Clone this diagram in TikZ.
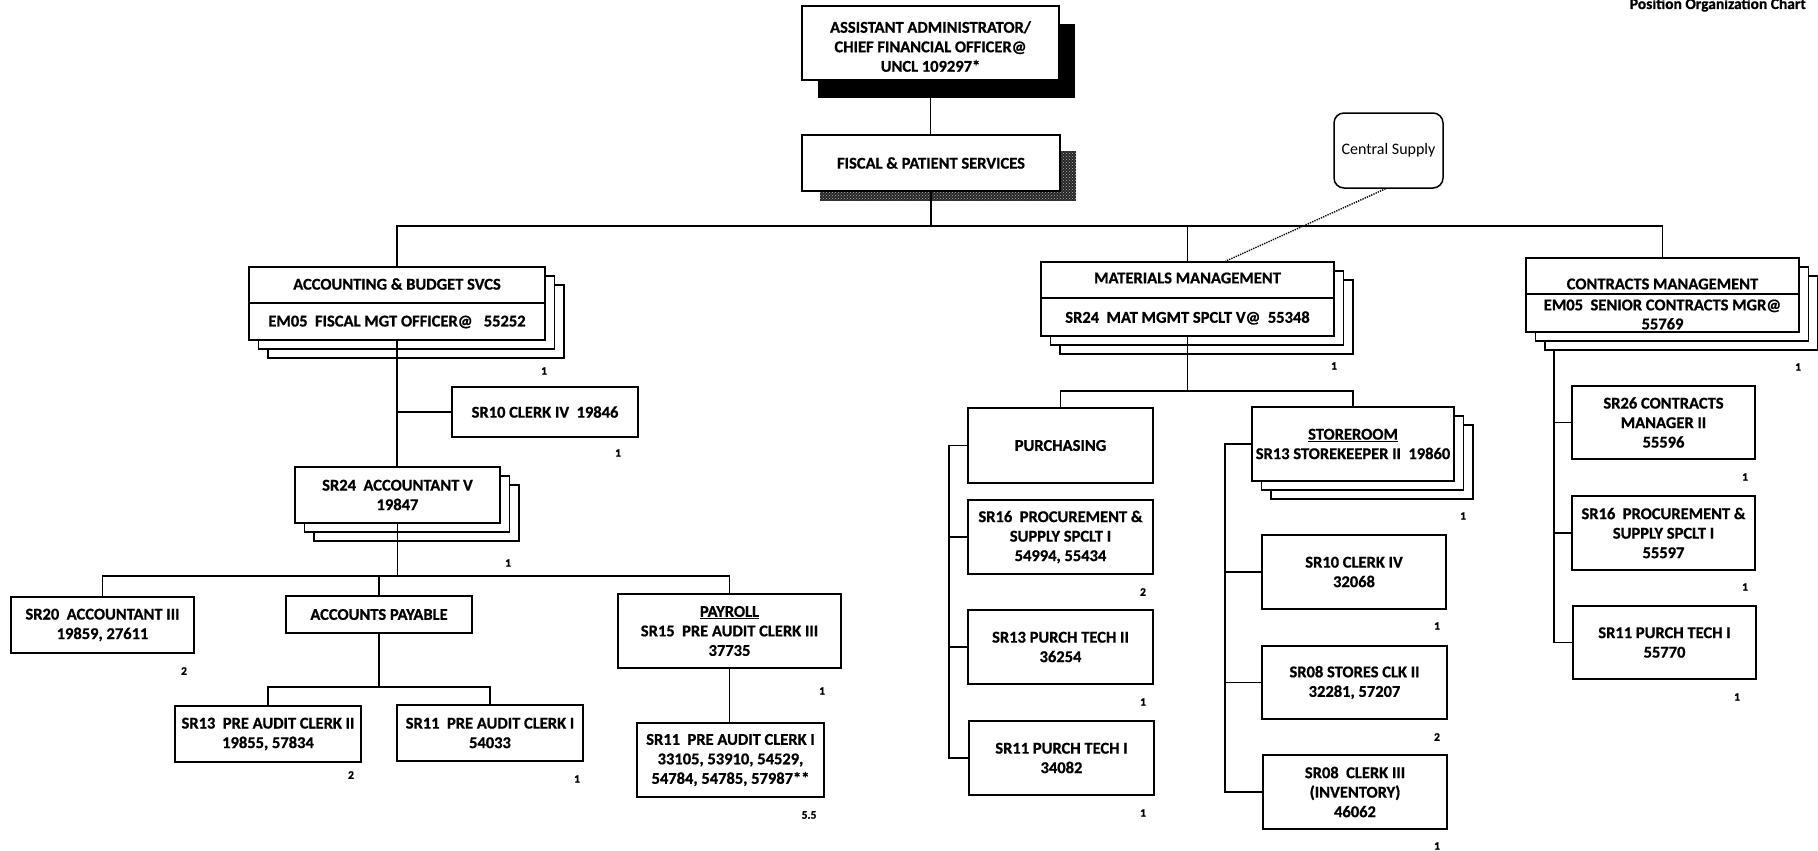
\documentclass[tikz,border=0pt]{standalone}
\usepackage{fontspec}
\setmainfont{Carlito}[BoldFeatures={FakeBold=0.8}]
\usetikzlibrary{backgrounds,patterns}
\newcommand{\boxfont}{\fontsize{16.5}{19.5}\selectfont\bfseries}
\newcommand{\numfont}{\fontsize{11.5}{13}\selectfont\bfseries}
\begin{document}
\begin{tikzpicture}[x=1pt,y=-1pt,
  box/.style={draw, line width=1.5pt, fill=white, inner sep=0pt, align=center, font=\boxfont},
  stack/.style={
    preaction={draw, fill=white, line width=1.5pt, transform canvas={shift={(19pt,-18pt)}}},
    preaction={draw, fill=white, line width=1.5pt, transform canvas={shift={(9.5pt,-9pt)}}}},
  txt/.style={inner sep=0pt, align=center, font=\boxfont},
  divider/.style={line width=1.5pt},
  conn/.style={line width=1.4pt},
  num/.style={inner sep=0pt, font=\numfont}]
\begin{scope}[on background layer]
\fill[white] (0,0) rectangle (1818,851);
\end{scope}
\useasboundingbox (0,0) rectangle (1818,851);

% title
\node[anchor=base east, inner sep=0pt, font=\fontsize{15.5}{18}\selectfont\bfseries] (title) at (1806,9) {Position Organization Chart};

% top
\node[box, minimum width=257pt, minimum height=74pt,
  preaction={fill=black, transform canvas={shift={(16pt,-18pt)}}}] (top) at (930.5,43) {};
\node[txt] (topt) at (930.5,46.5) {ASSISTANT ADMINISTRATOR/\\CHIEF FINANCIAL OFFICER@\\UNCL 109297*};

\node[box, minimum width=258pt, minimum height=56pt] (fps) at (931,163) {FISCAL \& PATIENT SERVICES};
\begin{scope}[on background layer]
\fill[black!85] ([shift={(19pt,-17pt)}]fps.north west) rectangle ([shift={(15pt,-9pt)}]fps.south east);
\fill[pattern=crosshatch dots, pattern color=white!70!black] ([shift={(19pt,-17pt)}]fps.north west) rectangle ([shift={(15pt,-9pt)}]fps.south east);
\end{scope}

\node[box, rounded corners=10pt, minimum width=109pt, minimum height=75pt, font=\fontsize{16}{19.5}\selectfont] (cs) at (1388.5,150.5) {Central Supply};

% accounting
\node[box, stack, minimum width=296pt, minimum height=73pt] (acc) at (397,303.5) {};
\node[txt] (acct1) at (397,284) {ACCOUNTING \& BUDGET SVCS};
\node[txt] (acct2) at (397,322) {EM05~~FISCAL MGT OFFICER@~~~55252};
\draw[divider] (acc.west |- 0,303) -- (acc.east |- 0,303);

\node[box, minimum width=186pt, minimum height=50pt] (sr10a) at (545,412) {SR10 CLERK IV~~19846};
\node[box, stack, minimum width=205pt, minimum height=56pt] (sr24) at (397.5,495) {SR24~~ACCOUNTANT V\\19847};
\node[box, minimum width=183pt, minimum height=56pt] (sr20) at (102.5,625) {SR20~~ACCOUNTANT III\\19859, 27611};
\node[box, minimum width=186pt, minimum height=37pt] (ap) at (379,614.5) {ACCOUNTS PAYABLE};
\node[box, minimum width=223pt, minimum height=74pt] (pay) at (729.5,631) {\underline{PAYROLL}\\SR15~~PRE AUDIT CLERK III\\37735};
\node[box, minimum width=186pt, minimum height=56pt] (sr13pa) at (268,734) {SR13~~PRE AUDIT CLERK II\\19855, 57834};
\node[box, minimum width=186pt, minimum height=56pt] (sr11pa) at (490,733) {SR11~~PRE AUDIT CLERK I\\54033};
\node[box, minimum width=187pt, minimum height=74pt] (sr11big) at (730.5,760) {SR11~~PRE AUDIT CLERK I\\33105, 53910, 54529,\\54784, 54785, 57987**};

% materials
\node[box, stack, minimum width=293pt, minimum height=74pt] (mat) at (1187.5,299) {};
\node[txt] (matt1) at (1187.5,278) {MATERIALS MANAGEMENT};
\node[txt] (matt2) at (1187.5,318) {SR24~~MAT MGMT SPCLT V@~~55348};
\draw[divider] (mat.west |- 0,298) -- (mat.east |- 0,298);

\node[box, minimum width=185pt, minimum height=75pt] (pur) at (1060.5,445.5) {PURCHASING};
\node[box, minimum width=185pt, minimum height=74pt] (sr16p) at (1060.5,537) {SR16~~PROCUREMENT \&\\SUPPLY SPCLT I\\54994, 55434};
\node[box, minimum width=185pt, minimum height=74pt] (sr13pt) at (1060.5,647) {SR13 PURCH TECH II\\36254};
\node[box, minimum width=185pt, minimum height=74pt] (sr11pt) at (1061.5,758) {SR11 PURCH TECH I\\34082};

\node[box, stack, minimum width=202pt, minimum height=74pt] (sto) at (1353,444) {\underline{STOREROOM}\\SR13 STOREKEEPER II~~19860};
\node[box, minimum width=184pt, minimum height=74pt] (sr10b) at (1354,572) {SR10 CLERK IV\\32068};
\node[box, minimum width=185pt, minimum height=73pt] (sr08s) at (1354.5,682.5) {SR08 STORES CLK II\\32281, 57207};
\node[box, minimum width=184pt, minimum height=74pt] (sr08c) at (1355,792) {SR08~~CLERK III\\(INVENTORY)\\46062};

% contracts
\node[box, stack, minimum width=273pt, minimum height=74pt] (con) at (1662.5,295) {};
\node[txt] (cont1) at (1662.5,284) {CONTRACTS MANAGEMENT};
\node[txt, font=\fontsize{16.5}{19}\selectfont\bfseries] (cont2) at (1662.5,314.5) {EM05~~SENIOR CONTRACTS MGR@\\55769};
\draw[divider] (con.west |- 0,294) -- (con.east |- 0,294);

\node[box, minimum width=183pt, minimum height=73pt] (sr26) at (1663.5,422.5) {SR26 CONTRACTS\\MANAGER II\\55596};
\node[box, minimum width=183pt, minimum height=74pt] (sr16c) at (1663.5,533) {SR16~~PROCUREMENT \&\\SUPPLY SPCLT I\\55597};
\node[box, minimum width=183pt, minimum height=73pt] (sr11c) at (1664.5,642.5) {SR11 PURCH TECH I\\55770};

% connectors
\coordinate (busy) at (0,226);
\draw[conn] (top.south) -- (top.south |- fps.north);
\draw[conn] (fps.south) -- (fps.south |- busy);
\draw[conn] (acc.north) |- (con.north |- busy) -- (con.north);
\draw[conn] (mat.north) -- (mat.north |- busy);
\draw[conn, dash pattern=on 1.3pt off 1.1pt] ([xshift=-3pt]cs.south) -- ([xshift=38pt]mat.north);

\draw[conn] (acc.south) -- (acc.south |- sr24.north);
\draw[conn] (sr10a.west) -- (sr10a.west -| acc.south);
\coordinate (b2) at (0,576);
\draw[conn] (sr24.south) -- (sr24.south |- b2);
\draw[conn] (sr20.north) |- (pay.north |- b2) -- (pay.north);
\draw[conn] (ap.north) -- (ap.north |- b2);
\coordinate (b3) at (0,687);
\draw[conn] (ap.south) -- (ap.south |- b3);
\draw[conn] (sr13pa.north) |- (sr11pa.north |- b3) -- (sr11pa.north);
\draw[conn] (pay.south) -- (pay.south |- sr11big.north);

\coordinate (b4) at (0,391);
\draw[conn] (mat.south) -- (mat.south |- b4);
\draw[conn] (pur.north) |- (sto.north |- b4) -- (sto.north);

\coordinate (pl) at (949,0);
\draw[conn] (pur.west) -- (pur.west -| pl) -- (sr11pt.west -| pl) -- (sr11pt.west);
\draw[conn] (sr16p.west) -- (sr16p.west -| pl);
\draw[conn] (sr13pt.west) -- (sr13pt.west -| pl);

\coordinate (sl) at (1225,0);
\draw[conn] (sto.west) -- (sto.west -| sl) -- (sr08c.west -| sl) -- (sr08c.west);
\draw[conn] (sr10b.west) -- (sr10b.west -| sl);
\draw[conn] (sr08s.west) -- (sr08s.west -| sl);

\coordinate (cl) at (1554,0);
\begin{scope}[on background layer]
\draw[conn] (con.south -| cl) -- (sr11c.west -| cl) -- (sr11c.west);
\end{scope}
\draw[conn] (sr26.west) -- (sr26.west -| cl);
\draw[conn] (sr16c.west) -- (sr16c.west -| cl);

% counts
\node[num] (nacc) at (544,371) {1};
\node[num] (nsr10a) at (618,453) {1};
\node[num] (nsr24) at (508,563) {1};
\node[num] (nsr20) at (184,671) {2};
\node[num] (nsr13pa) at (351,775) {2};
\node[num] (nsr11pa) at (577,779) {1};
\node[num] (npay) at (822,691) {1};
\node[num] (nbig) at (809,815) {5.5};
\node[num] (nmat) at (1334,366) {1};
\node[num] (ncon) at (1798,367) {1};
\node[num] (nsto) at (1463,516) {1};
\node[num] (nsr16p) at (1143,592) {2};
\node[num] (nsr13pt) at (1143,702) {1};
\node[num] (nsr11pt) at (1143,813) {1};
\node[num] (nsr10b) at (1437,626) {1};
\node[num] (nsr08s) at (1437,737) {2};
\node[num] (nsr08c) at (1437,846) {1};
\node[num] (nsr26) at (1745,477) {1};
\node[num] (nsr16c) at (1745,587) {1};
\node[num] (nsr11c) at (1737,697) {1};
\end{tikzpicture}
\end{document}
